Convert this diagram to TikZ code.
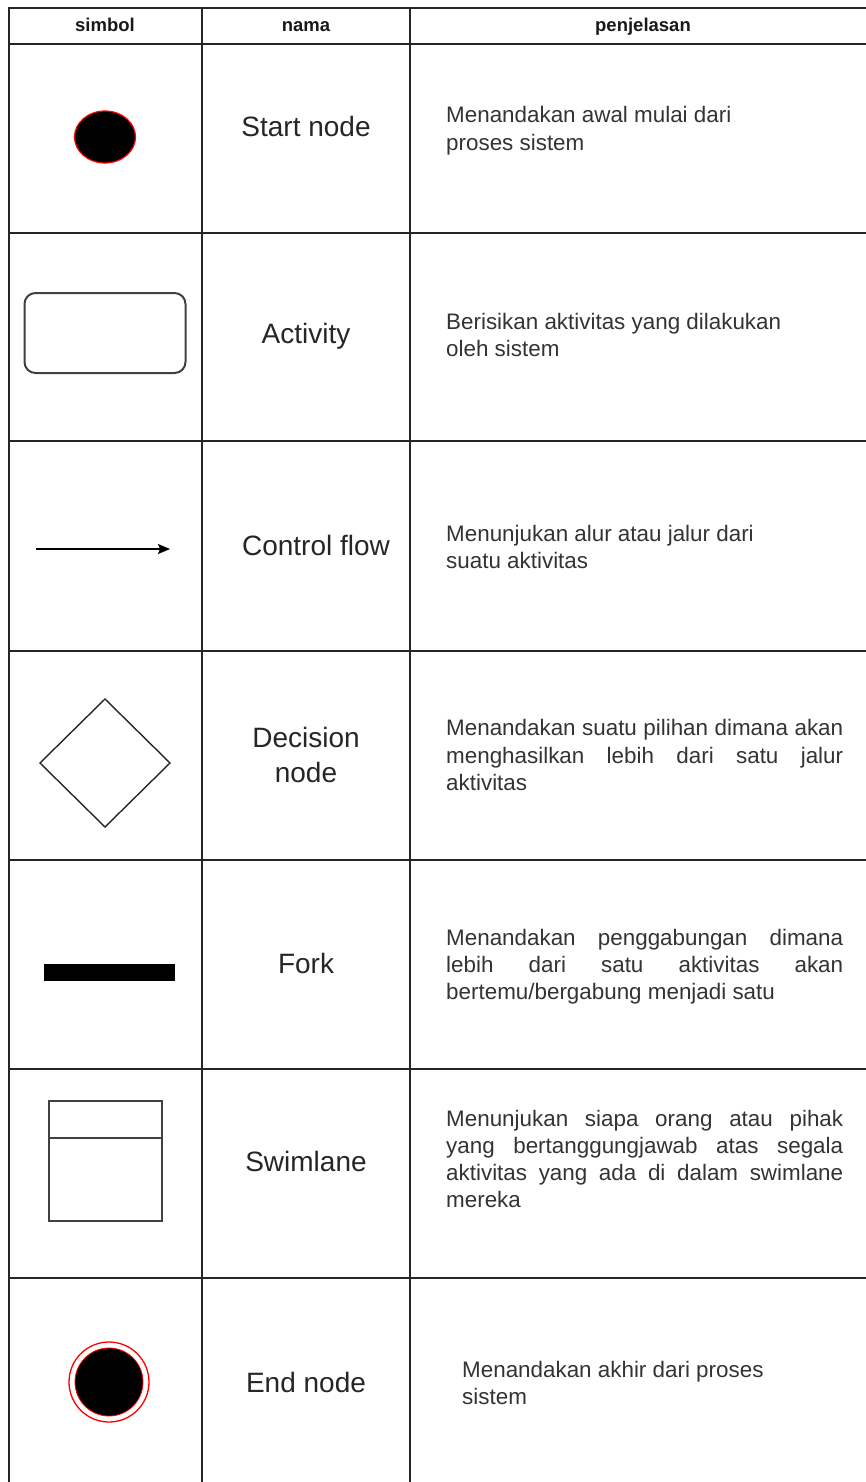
\documentclass[tikz,border=0pt]{standalone}
\usepackage{fontspec}
\setmainfont{Liberation Sans}
\usetikzlibrary{arrows.meta,shapes.geometric}
\begin{document}
\begin{tikzpicture}[x=1pt,y=-1pt,
  gridrule/.style={line width=1.3pt, draw=black!85},
  symline/.style={line width=2pt, draw=black!75},
  headtext/.style={font=\fontsize{18.5}{22}\selectfont\bfseries, anchor=base, text=black!90, inner sep=0pt},
  nametext/.style={font=\fontsize{28}{34}\selectfont, anchor=base, text=black!85, inner sep=0pt},
  desctext/.style={font=\fontsize{22.4}{27}\selectfont, anchor=base west, text=black!80, inner sep=0pt},
]
\useasboundingbox (0,0) rectangle (866,1482);

% table rules
\draw[gridrule] (9,1482) -- (9,8) -- (866,8);
\draw[gridrule] (202,8) -- (202,1482);
\draw[gridrule] (410,8) -- (410,1482);
\foreach \y in {44,233,441,651,860,1069,1278}
  \draw[gridrule] (9,\y) -- (866,\y);

% header
\node[headtext] (hSimbol) at (105,32) {simbol};
\node[headtext] (hNama) at (306,32) {nama};
\node[headtext] (hPenj) at (643,32) {penjelasan};

% names
\node[nametext] (nStart) at (306,137) {Start node};
\node[nametext] (nAct) at (306,343) {Activity};
\node[nametext] (nFlow) at (316,555) {Control flow};
\node[nametext] (nDec1) at (306,747) {Decision};
\node[nametext] (nDec2) at (306,782) {node};
\node[nametext] (nFork) at (306,973) {Fork};
\node[nametext] (nSwim) at (306,1171) {Swimlane};
\node[nametext] (nEnd) at (306,1392) {End node};

% descriptions
\node[desctext] (dStart1) at (446,123) {Menandakan awal mulai dari};
\node[desctext] (dStart2) at (446,151) {proses sistem};

\node[desctext] (dAct1) at (446,329) {Berisikan aktivitas yang dilakukan};
\node[desctext] (dAct2) at (446,356) {oleh sistem};

\node[desctext] (dFlow1) at (446,541) {Menunjukan alur atau jalur dari};
\node[desctext] (dFlow2) at (446,568) {suatu aktivitas};

\node[desctext] (dDec1) at (446,735) {\makebox[397pt][s]{Menandakan suatu pilihan dimana akan}};
\node[desctext] (dDec2) at (446,763) {\makebox[397pt][s]{menghasilkan lebih dari satu jalur}};
\node[desctext] (dDec3) at (446,790) {aktivitas};

\node[desctext] (dFork1) at (446,945) {\makebox[397pt][s]{Menandakan penggabungan dimana}};
\node[desctext] (dFork2) at (446,972) {\makebox[397pt][s]{lebih dari satu aktivitas akan}};
\node[desctext] (dFork3) at (446,999) {bertemu/bergabung menjadi satu};

\node[desctext] (dSwim1) at (446,1126) {\makebox[397pt][s]{Menunjukan siapa orang atau pihak}};
\node[desctext] (dSwim2) at (446,1153) {\makebox[397pt][s]{yang bertanggungjawab atas segala}};
\node[desctext] (dSwim3) at (446,1180) {\makebox[397pt][s]{aktivitas yang ada di dalam swimlane}};
\node[desctext] (dSwim4) at (446,1207) {mereka};

\node[desctext] (dEnd1) at (462,1377) {Menandakan akhir dari proses};
\node[desctext] (dEnd2) at (462,1404) {sistem};

% symbols
\node[ellipse, draw=red, line width=1.2pt, fill=black, minimum width=61pt, minimum height=52pt, inner sep=0pt]
  (symStart) at (105,137) {};

\node[rectangle, symline, rounded corners=11pt, minimum width=161pt, minimum height=80pt, inner sep=0pt]
  (symAct) at (105,333) {};

\coordinate (flowFrom) at (36,549);
\coordinate (flowTo) at (170,549);
\draw[line width=1.3pt, -{Stealth[length=12pt,width=10pt,inset=2pt]}] (flowFrom) -- (flowTo);

\draw[line width=1.4pt, draw=black!85] (40,763) -- (105,699) -- (170,763) -- (105,827) -- cycle;

\fill[black] (44,964) rectangle (175,981);

\draw[symline] (49,1101) rectangle (162,1221);
\draw[symline] (49,1138) -- (162,1138);

\draw[red, line width=1.3pt] (109,1382) circle [radius=40];
\fill[black] (109,1382) circle [radius=34];
\draw[red, line width=0.8pt] (109,1382) circle [radius=34];
\end{tikzpicture}
\end{document}
